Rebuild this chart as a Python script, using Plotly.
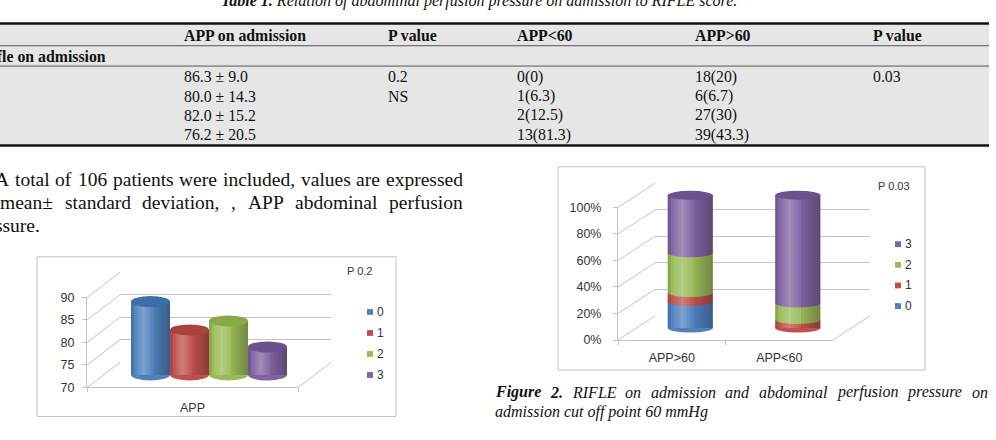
import plotly.graph_objects as go

W, H = 996, 440

# ------------------------------------------------------------------ data
table_caption_bold = "Table 1."
table_caption_rest = " Relation of abdominal perfusion pressure on admission to RIFLE score."
table_headers = ["APP on admission", "P value", "APP<60", "APP>60", "P value"]
row_group_label = "Rifle on admission"
rifle_classes = ["0", "1", "2", "3"]
app_mean_sd = ["86.3 ± 9.0", "80.0 ± 14.3", "82.0 ± 15.2", "76.2 ± 20.5"]
app_p_value = ["0.2", "NS", "", ""]
app_below60 = ["0(0)", "1(6.3)", "2(12.5)", "13(81.3)"]
app_above60 = ["18(20)", "6(6.7)", "27(30)", "39(43.3)"]
cut_p_value = ["0.03", "", "", ""]

para_line1 = ["A", "total", "of", "106", "patients", "were", "included,", "values", "are",
              "expressed"]
para_line2 = ["mean±", "standard", "deviation,", ",", "APP", "abdominal", "perfusion"]
para_line3 = "pressure."

fig1_category = "APP"
fig1_values = [86.3, 80.0, 82.0, 76.2]          # mean APP per RIFLE class
fig1_ticks = [70, 75, 80, 85, 90]
fig1_p = "P 0.2"

fig2_categories = ["APP>60", "APP<60"]
pct_rifle0 = [20.0, 0.0]
pct_rifle1 = [6.7, 6.3]
pct_rifle2 = [30.0, 12.5]
pct_rifle3 = [43.3, 81.3]
fig2_ticks = [0, 20, 40, 60, 80, 100]
fig2_tick_text = ["0%", "20%", "40%", "60%", "80%", "100%"]
fig2_p = "P 0.03"

fig2_caption_line1 = ["Figure", "2.", "RIFLE", "on", "admission", "and",
                      "abdominal", "perfusion", "pressure", "on"]
fig2_caption_bold_words = 2
fig2_caption_line2 = "admission cut off point 60 mmHg"

# ------------------------------------------------------------------ styles
body_col = ["#4f81bd", "#c0504d", "#9bbb59", "#8064a2"]
cap_col = ["#3d6dab", "#a9423f", "#87a946", "#6a5190"]
SERIF = "Liberation Serif"
SANS = "Liberation Sans"
TXT = "#111111"
CHT = "#333333"
FRAME = "#c4c4c4"
TABLE_FS = 15.8
PARA_FS = 19.5
CAP_FS = 16.0

# approximate Times (Liberation Serif) advance widths, 1/1000 em, for justification
_REG = {' ': 250, 'A': 722, 'P': 556, 'a': 444, 'b': 500, 'c': 444, 'd': 500, 'e': 444,
        'f': 333, 'h': 500, 'i': 278, 'l': 278, 'm': 778, 'n': 500, 'o': 500, 'p': 500,
        'r': 333, 's': 389, 't': 278, 'u': 500, 'v': 500, 'w': 722, 'x': 500, ',': 250,
        '.': 250, '±': 549}
_ITA = {' ': 250, 'a': 500, 'b': 500, 'c': 444, 'd': 500, 'e': 444, 'f': 278, 'g': 500,
        'i': 278, 'l': 278, 'm': 722, 'n': 500, 'o': 500, 'p': 500, 'r': 389, 's': 389,
        't': 278, 'u': 500, 'R': 611, 'I': 333, 'F': 611, 'L': 556, 'E': 611, 'H': 722,
        '.': 250}
_BIT = {'F': 667, 'i': 278, 'g': 500, 'u': 556, 'r': 389, 'e': 444, '.': 250}


def text_w(word, table, size):
    return sum(table.get(ch, 500) for ch in word) * size / 1000.0


def justify(words, tables, size, x0, x1):
    widths = [text_w(w, t, size) for w, t in zip(words, tables)]
    gap = (x1 - x0 - sum(widths)) / (len(words) - 1)
    xs, x = [], x0
    for wd in widths:
        xs.append(x)
        x += wd + gap
    return xs


def px_x(p):
    return p / W


def px_y(p):
    return 1 - p / H


def ann(x, y, text, size, family, xanchor="left", color=TXT, yanchor="middle"):
    return dict(x=px_x(x), y=px_y(y), xref="paper", yref="paper", text=text,
                showarrow=False, xanchor=xanchor, yanchor=yanchor, borderpad=0,
                borderwidth=0, font=dict(size=size, family=family, color=color))


def line(x0, y0, x1, y1, color, width):
    return dict(type="line", xref="paper", yref="paper", x0=px_x(x0), y0=px_y(y0),
                x1=px_x(x1), y1=px_y(y1), line=dict(color=color, width=width))


annotations = []
shapes = []

# ------------------------------------------------------------------ table
shapes.append(dict(type="rect", xref="paper", yref="paper", x0=px_x(0), x1=px_x(989),
                   y0=px_y(143), y1=px_y(17), fillcolor="#e6e6e6", line=dict(width=0),
                   layer="below"))
shapes.append(line(0, 17, 989, 17, "#111111", 2.5))
shapes.append(line(0, 40, 989, 40, "#555555", 1))
shapes.append(line(0, 61, 989, 61, "#555555", 1))
shapes.append(line(0, 143, 989, 143, "#111111", 2.5))

annotations.append(ann(479, -6, "<b><i>%s</i></b><i>%s</i>" % (table_caption_bold, table_caption_rest),
                       16, SERIF, xanchor="center"))
col_x = [184, 388, 517, 695, 873]
for cx, h in zip(col_x, table_headers):
    annotations.append(ann(cx, 29, "<b>%s</b>" % h, TABLE_FS, SERIF))
annotations.append(ann(106, 51, "<b>%s</b>" % row_group_label, TABLE_FS, SERIF, xanchor="right"))
row_y = [72, 92, 112, 132]
for r, ry in enumerate(row_y):
    for cx, colvals in zip(col_x, [app_mean_sd, app_p_value, app_below60, app_above60, cut_p_value]):
        if colvals[r]:
            annotations.append(ann(cx, ry, colvals[r], TABLE_FS, SERIF))

# ------------------------------------------------------------------ paragraph (justified)
xs = justify(para_line1, [_REG] * len(para_line1), PARA_FS, -5, 463)
for wx, wtxt in zip(xs, para_line1):
    annotations.append(ann(wx, 178, wtxt, PARA_FS, SERIF))
xs = justify(para_line2, [_REG] * len(para_line2), PARA_FS, 0, 463)
for wx, wtxt in zip(xs, para_line2):
    annotations.append(ann(wx, 202, wtxt, PARA_FS, SERIF))
annotations.append(ann(40, 226, para_line3, PARA_FS, SERIF, xanchor="right"))

# ------------------------------------------------------------------ figure 2 caption (justified)
tabs = [_BIT if i < fig2_caption_bold_words else _ITA for i in range(len(fig2_caption_line1))]
xs = justify(fig2_caption_line1, tabs, CAP_FS, 495, 988)
for i, (wx, wtxt) in enumerate(zip(xs, fig2_caption_line1)):
    t = "<b><i>%s</i></b>" % wtxt if i < fig2_caption_bold_words else "<i>%s</i>" % wtxt
    annotations.append(ann(wx, 398, t, CAP_FS, SERIF))
annotations.append(ann(495, 418, "<i>%s</i>" % fig2_caption_line2, CAP_FS, SERIF))

# ------------------------------------------------------------------ chart boxes
for (x0, y0, x1, y1) in [(37, 258, 396, 423), (558, 165, 925, 375)]:
    shapes.append(dict(type="rect", xref="paper", yref="paper", x0=px_x(x0), x1=px_x(x1),
                       y0=px_y(y1), y1=px_y(y0), line=dict(color=FRAME, width=1),
                       fillcolor="rgba(0,0,0,0)", layer="below"))

fig = go.Figure()
layout_axes = {}


def dom_x(a, b):
    return [px_x(a), px_x(b)]


def dom_y(top, bottom):
    return [px_y(bottom), px_y(top)]


def dummy(xa, ya):
    fig.add_trace(go.Scatter(x=[None], y=[None], xaxis=xa, yaxis=ya, showlegend=False,
                             hoverinfo="skip", mode="markers"))


def build_chart(n0, front_x0, front_x1, y_lo_px, y_hi_px, vmin, vmax, dx, dy, cats,
                tick_vals, tick_text, label_standoff, x_standoff):
    """n0: first axis index (back wall), n0+1 front frame, n0+2 bars."""
    scale = (y_lo_px - y_hi_px) / (vmax - vmin)
    nb, nf, nbar = n0, n0 + 1, n0 + 2
    sx = lambda k: "x" if k == 1 else "x%d" % k
    sy = lambda k: "y" if k == 1 else "y%d" % k
    kx = lambda k: "xaxis" if k == 1 else "xaxis%d" % k
    ky = lambda k: "yaxis" if k == 1 else "yaxis%d" % k
    # back wall grid
    eps = 0.005 * (vmax - vmin)
    yb = lambda v: y_lo_px + dy - (v - vmin) * scale
    layout_axes[kx(nb)] = dict(domain=dom_x(front_x0 + dx, front_x1 + dx), range=[0, 1],
                               visible=False, anchor=sy(nb))
    layout_axes[ky(nb)] = dict(domain=dom_y(yb(vmax + eps), yb(vmin - eps)),
                               range=[vmin - eps, vmax + eps], tickvals=tick_vals,
                               showgrid=True, gridcolor=FRAME, gridwidth=1,
                               showticklabels=False, ticks="", showline=False,
                               zeroline=False, anchor=sx(nb))
    dummy(sx(nb), sy(nb))
    # front frame
    layout_axes[kx(nf)] = dict(domain=dom_x(front_x0, front_x1), type="category",
                               categoryarray=cats, range=[-0.5, len(cats) - 0.5],
                               showline=True, linecolor=FRAME, linewidth=1, ticks="outside",
                               ticklen=4, tickcolor=FRAME, tickson="boundaries",
                               showgrid=False, zeroline=False, anchor=sy(nf),
                               ticklabelstandoff=x_standoff,
                               tickfont=dict(family=SANS, size=12.5, color=CHT))
    layout_axes[ky(nf)] = dict(domain=dom_y(y_hi_px, y_lo_px), range=[vmin, vmax],
                               tickvals=tick_vals, ticktext=tick_text, showline=True,
                               linecolor=FRAME, linewidth=1, ticks="outside", ticklen=4,
                               tickcolor=FRAME, showgrid=False, zeroline=False,
                               anchor=sx(nf), ticklabelstandoff=label_standoff,
                               tickfont=dict(family=SANS, size=12.5, color=CHT))
    dummy(sx(nf), sy(nf))
    # side wall diagonals and floor right edge
    for v in tick_vals:
        yf = y_lo_px - (v - vmin) * scale
        shapes.append(line(front_x0, yf, front_x0 + dx, yf + dy, FRAME, 1))
    shapes.append(line(front_x1, y_lo_px, front_x1 + dx, y_lo_px + dy, FRAME, 1))
    # bars plane (middle depth)
    mx0, mx1 = front_x0 + dx / 2, front_x1 + dx / 2
    base_px = y_lo_px + dy / 2
    top_px, bot_px = y_hi_px - 25, y_lo_px + 10
    layout_axes[ky(nbar)] = dict(domain=dom_y(top_px, bot_px),
                                 range=[vmin + (base_px - bot_px) / scale,
                                        vmin + (base_px - top_px) / scale],
                                 visible=False, anchor=sx(nbar))
    return sx(nbar), sy(nbar), kx(nbar), mx0, mx1, scale


def ellipse(xa, ya, xc, half_w, yv, half_h_px, color):
    shapes.append(dict(type="circle", xref=xa, yref=ya, x0=xc - half_w, x1=xc + half_w,
                       ysizemode="pixel", yanchor=yv, y0=-half_h_px, y1=half_h_px,
                       fillcolor=color, line=dict(width=0), layer="above"))


def shading(xa, ya, xc, half_w, y0, y1, n=14):
    """cylinder shading: thin translucent strips across the bar body."""
    for k in range(n):
        t0 = -1 + 2 * k / n
        t1 = t0 + 2 / n
        t = (t0 + t1) / 2
        light = 0.26 * max(0.0, 1 - abs(t + 0.35) / 0.55)
        dark = 0.28 * max(0.0, (t - 0.05) / 0.95) + 0.14 * max(0.0, (-t - 0.75) / 0.25)
        if light > dark:
            col = "rgba(255,255,255,%.3f)" % (light - dark)
        else:
            col = "rgba(0,0,0,%.3f)" % (dark - light)
        shapes.append(dict(type="rect", xref=xa, yref=ya, x0=xc + t0 * half_w,
                           x1=xc + t1 * half_w, y0=y0, y1=y1, fillcolor=col,
                           line=dict(width=0), layer="above"))


# ---------------- chart 1
xa1, ya1, kx1, m0, m1, s1 = build_chart(1, 87, 298, 393, 300, 70, 90, 33, -26,
                                         [fig1_category], fig1_ticks,
                                         [str(v) for v in fig1_ticks], 5, 9)
unit1 = 39.0
half = (m1 - m0) / 2 / unit1
c1 = (len(fig1_values) - 1) / 2
layout_axes[kx1] = dict(domain=dom_x(m0, m1), range=[c1 - half, c1 + half], visible=False,
                        anchor=ya1)
for i, (v, cls) in enumerate(zip(fig1_values, rifle_classes)):
    fig.add_trace(go.Bar(x=[i], y=[v - 70], base=[70], width=[1.0], xaxis=xa1, yaxis=ya1,
                         marker=dict(color=body_col[i], line=dict(width=0)), name=cls,
                         showlegend=False, hoverinfo="skip"))
for i, v in enumerate(fig1_values):
    ellipse(xa1, ya1, i, 0.5, 70, 5.5, body_col[i])
    shading(xa1, ya1, i, 0.5, 70, v)
for i, v in enumerate(fig1_values):
    ellipse(xa1, ya1, i, 0.5, v, 5.5, cap_col[i])

annotations.append(ann(347, 273, fig1_p, 11, SANS, color=CHT))
for i, cls in enumerate(rifle_classes):
    yy = 315 + i * 21.7
    shapes.append(dict(type="rect", xref="paper", yref="paper", x0=px_x(367), x1=px_x(373),
                       y0=px_y(yy + 3), y1=px_y(yy - 3), fillcolor=body_col[i],
                       line=dict(width=0)))
    annotations.append(ann(377, yy, cls, 12, SANS, color=CHT))

# ---------------- chart 2
xa2, ya2, kx2, n0, n1, s2 = build_chart(4, 618, 833, 344, 207, 0, 100, 37, -25,
                                         fig2_categories, fig2_ticks, fig2_tick_text, 9, 6)
layout_axes[kx2] = dict(domain=dom_x(n0, n1), range=[-0.5, 1.5], visible=False, anchor=ya2)
segments = [pct_rifle0, pct_rifle1, pct_rifle2, pct_rifle3]
bw = 0.42
cum = [0.0] * len(fig2_categories)
bases = []
for k, seg in enumerate(segments):
    fig.add_trace(go.Bar(x=list(range(len(fig2_categories))), y=seg, base=list(cum),
                         width=bw, xaxis=xa2, yaxis=ya2, showlegend=False, hoverinfo="skip",
                         marker=dict(color=body_col[k], line=dict(width=0)),
                         name=rifle_classes[k]))
    bases.append(list(cum))
    cum = [c + s for c, s in zip(cum, seg)]
for j in range(len(fig2_categories)):
    for k, seg in enumerate(segments):
        if seg[j] <= 0:
            continue
        ellipse(xa2, ya2, j, bw / 2, bases[k][j], 4.5, body_col[k])
    shading(xa2, ya2, j, bw / 2, 0, cum[j])
    last = max(k for k, seg in enumerate(segments) if seg[j] > 0)
    ellipse(xa2, ya2, j, bw / 2, cum[j], 4.5, cap_col[last])

annotations.append(ann(878, 185, fig2_p, 11, SANS, color=CHT))
for i, cls in enumerate(reversed(rifle_classes)):
    k = len(rifle_classes) - 1 - i
    yy = 245 + i * 21.3
    shapes.append(dict(type="rect", xref="paper", yref="paper", x0=px_x(895), x1=px_x(901),
                       y0=px_y(yy + 3), y1=px_y(yy - 3), fillcolor=body_col[k],
                       line=dict(width=0)))
    annotations.append(ann(905, yy, cls, 12, SANS, color=CHT))

fig.update_layout(
    width=W, height=H, autosize=False,
    margin=dict(l=0, r=0, t=0, b=0),
    paper_bgcolor="white", plot_bgcolor="rgba(0,0,0,0)",
    barmode="overlay", showlegend=False,
    annotations=annotations, shapes=shapes,
    **layout_axes,
)

fig.write_html("out.html")
